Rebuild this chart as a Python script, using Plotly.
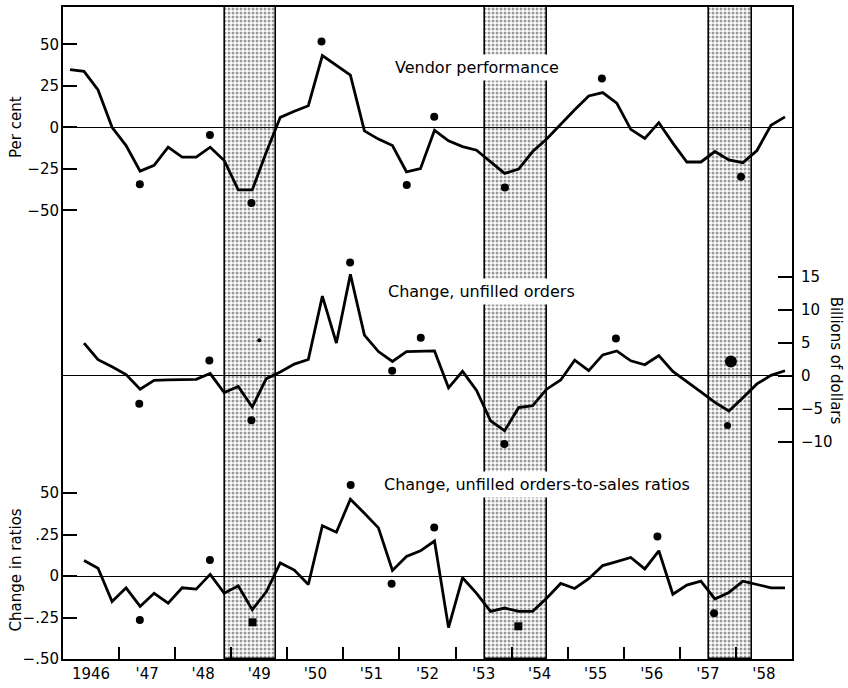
import plotly.graph_objects as go

FONT = "DejaVu Sans"

# ---------------- data ----------------
years = list(range(1946, 1959))
quarter_offsets = [0.125, 0.375, 0.625, 0.875]
quarters = [y + q for y in years for q in quarter_offsets]   # 1946Q1 .. 1958Q4 (midpoints)

vendor_pct = [34.7, 33.7, 22.5, 0.0, -11.0, -26.4, -22.9, -12.0, -18.0, -18.0, -12.0, -20.0,
              -37.7, -37.7, -15.0, 6.0, 9.7, 13.0, 43.2, 37.3, 31.4, -2.2, -7.1, -11.0,
              -26.8, -24.9, -1.8, -8.1, -11.6, -13.8, -20.7, -27.8, -25.2, -14.6, -7.1, 2.0,
              10.6, 18.9, 20.9, 14.6, -1.2, -6.7, 2.8, -9.5, -20.9, -20.9, -14.6, -19.7,
              -21.3, -14.0, 1.2, 6.3]

orders_chg = [4.97, 2.47, 1.4, 0.22, -2.0, -0.67, -0.6, -0.5, -0.5, 0.37, -2.5,
              -1.6, -4.7, -0.4, 0.6, 1.8, 2.5, 12.1, 5.0, 15.4, 6.2, 3.7, 2.2,
              3.7, 3.8, 3.8, -1.8, 0.7, -2.2, -6.8, -8.3, -4.8, -4.5, -2.0, -0.6,
              2.4, 0.8, 3.2, 3.8, 2.3, 1.7, 3.1, 0.7, -0.8, -2.4, -4.0, -5.3,
              -3.3, -1.2, 0.1, 0.8]

ratio_chg = [0.093, 0.047, -0.154, -0.071, -0.183, -0.104, -0.163, -0.071, -0.079, 0.010, -0.104,
             -0.059, -0.203, -0.095, 0.079, 0.036, -0.051, 0.303, 0.264, 0.463, 0.378, 0.290, 0.034,
             0.118, 0.152, 0.211, -0.311, -0.010, -0.104, -0.213, -0.193, -0.213, -0.213, -0.134, -0.045,
             -0.075, -0.016, 0.063, 0.087, 0.112, 0.043, 0.152, -0.110, -0.055, -0.031, -0.138, -0.099,
             -0.031, -0.051, -0.071, -0.071]

# turning-point dots
vendor_dot_x = [1947.37, 1948.62, 1949.36, 1950.61, 1952.13, 1952.62, 1953.88, 1955.61, 1958.09]
vendor_dot_y = [-34.3, -4.7, -45.6, 51.7, -34.7, 6.3, -36.3, 29.4, -29.8]

orders_dot_x = [1947.36, 1948.61, 1949.36, 1949.50, 1951.12, 1951.87, 1952.38, 1953.87, 1955.86, 1957.91, 1957.85]
orders_dot_y = [-4.2, 2.35, -6.7, 5.4, 17.2, 0.8, 5.8, -10.3, 5.7, 2.2, -7.5]
orders_dot_size = [8, 8, 8, 4, 8, 8, 8, 8, 8, 12, 7]

ratio_dot_x = [1947.37, 1948.62, 1949.38, 1951.13, 1951.86, 1952.62, 1954.12, 1956.60, 1957.61]
ratio_dot_y = [-0.265, 0.096, -0.279, 0.549, -0.046, 0.293, -0.303, 0.238, -0.224]
ratio_dot_symbol = ["circle", "circle", "square", "circle", "circle", "circle", "square", "circle", "circle"]

rec_start = [1948.89, 1953.52, 1957.52]
rec_end = [1949.80, 1954.63, 1958.29]

year_labels = ["1946", "'47", "'48", "'49", "'50", "'51", "'52", "'53", "'54", "'55", "'56", "'57", "'58"]
pct_ticks = [-50, -25, 0, 25, 50]
pct_text = ["\u221250", "\u221225", "0", "25", "50"]
bil_ticks = [-10, -5, 0, 5, 10, 15]
bil_text = ["\u221210", "\u22125", "0", "5", "10", "15"]
rat_ticks = [-0.5, -0.25, 0, 0.25, 0.5]
rat_text = ["\u2212.50", "\u2212.25", "0", ".25", "50"]

# ---------------- figure ----------------
fig = go.Figure()

fig.add_trace(go.Bar(
    x=[(s + e) / 2 for s, e in zip(rec_start, rec_end)],
    width=[e - s for s, e in zip(rec_start, rec_end)],
    y=[1] * len(rec_start), base=0,
    xaxis="x", yaxis="y",
    marker=dict(color="rgba(0,0,0,0)",
                line=dict(color="black", width=1.6),
                pattern=dict(shape=".", size=4, solidity=0.45,
                             fgcolor="#333", bgcolor="rgba(0,0,0,0)")),
    hoverinfo="skip", showlegend=False))

line_style = dict(color="black", width=2.8)
no_outline = dict(width=0)

fig.add_trace(go.Scatter(x=quarters, y=vendor_pct, mode="lines", line=line_style,
                         yaxis="y2", showlegend=False, hoverinfo="skip"))
fig.add_trace(go.Scatter(x=vendor_dot_x, y=vendor_dot_y, mode="markers",
                         marker=dict(color="black", size=8, opacity=1, line=no_outline),
                         yaxis="y2", showlegend=False, hoverinfo="skip"))

fig.add_trace(go.Scatter(x=quarters[1:], y=orders_chg, mode="lines", line=line_style,
                         yaxis="y3", showlegend=False, hoverinfo="skip"))
fig.add_trace(go.Scatter(x=orders_dot_x, y=orders_dot_y, mode="markers",
                         marker=dict(color="black", size=orders_dot_size, opacity=1,
                                     line=no_outline),
                         yaxis="y3", showlegend=False, hoverinfo="skip"))

fig.add_trace(go.Scatter(x=quarters[1:], y=ratio_chg, mode="lines", line=line_style,
                         yaxis="y4", showlegend=False, hoverinfo="skip"))
fig.add_trace(go.Scatter(x=ratio_dot_x, y=ratio_dot_y, mode="markers",
                         marker=dict(color="black", size=8, symbol=ratio_dot_symbol, opacity=1,
                                     line=no_outline),
                         yaxis="y4", showlegend=False, hoverinfo="skip"))

tickfont = dict(family=FONT, size=15, color="black")

common_y = dict(overlaying="y", showgrid=False, showline=False,
                ticks="inside", ticklen=14, tickwidth=1.5, tickcolor="black",
                zeroline=True, zerolinecolor="black", zerolinewidth=1.3,
                tickfont=tickfont, tickmode="array")

title_font = dict(family=FONT, size=15, color="black")

fig.update_layout(
    width=848, height=688,
    margin=dict(l=63, r=56, t=5, b=19),
    paper_bgcolor="white", plot_bgcolor="white",
    bargap=0,
    xaxis=dict(range=[1946, 1959], tickmode="array",
               tickvals=[y + 0.5 for y in years], ticktext=year_labels,
               ticks="", showgrid=False, zeroline=False,
               showline=True, mirror=True, linecolor="black", linewidth=1.6,
               tickfont=tickfont,
               minor=dict(tickmode="array", tickvals=years[1:], ticks="inside",
                          ticklen=12, tickwidth=1.5, tickcolor="black", showgrid=False)),
    yaxis=dict(range=[0, 1], showticklabels=False, ticks="", showgrid=False,
               zeroline=False, showline=True, mirror=True, linecolor="black", linewidth=1.6),
    yaxis2=dict(side="left", range=[-320.4, 72.5], tickvals=pct_ticks, ticktext=pct_text,
                ticklabelstandoff=3, **common_y),
    yaxis3=dict(side="right", range=[-42.89, 55.92], tickvals=bil_ticks, ticktext=bil_text,
                ticklabelstandoff=8, **common_y),
    yaxis4=dict(side="left", range=[-0.5, 3.429], tickvals=rat_ticks, ticktext=rat_text,
                ticklabelstandoff=3, **common_y),
    annotations=[
        dict(text="Vendor performance", xref="paper", yref="paper", x=0.568, y=0.928,
             showarrow=False, bgcolor="white", borderpad=3,
             font=dict(family=FONT, size=16, color="black")),
        dict(text="Change, unfilled orders", xref="paper", yref="paper", x=0.574, y=0.563,
             showarrow=False, bgcolor="white", borderpad=3,
             font=dict(family=FONT, size=16, color="black")),
        dict(text="Change, unfilled orders-to-sales ratios", xref="paper", yref="paper",
             x=0.650, y=0.247, showarrow=False, bgcolor="white", borderpad=3,
             font=dict(family=FONT, size=16, color="black")),
        dict(text="Per cent", xref="paper", yref="paper", x=-0.0644, y=0.816,
             xanchor="center", yanchor="middle",
             textangle=-90, showarrow=False, font=title_font),
        dict(text="Change in ratios", xref="paper", yref="paper", x=-0.0644, y=0.136,
             xanchor="center", yanchor="middle",
             textangle=-90, showarrow=False, font=title_font),
        dict(text="Billions of dollars", xref="paper", yref="paper", x=1.060, y=0.458,
             xanchor="center", yanchor="middle",
             textangle=90, showarrow=False, font=title_font),
    ],
)

fig.write_html("out.html")
